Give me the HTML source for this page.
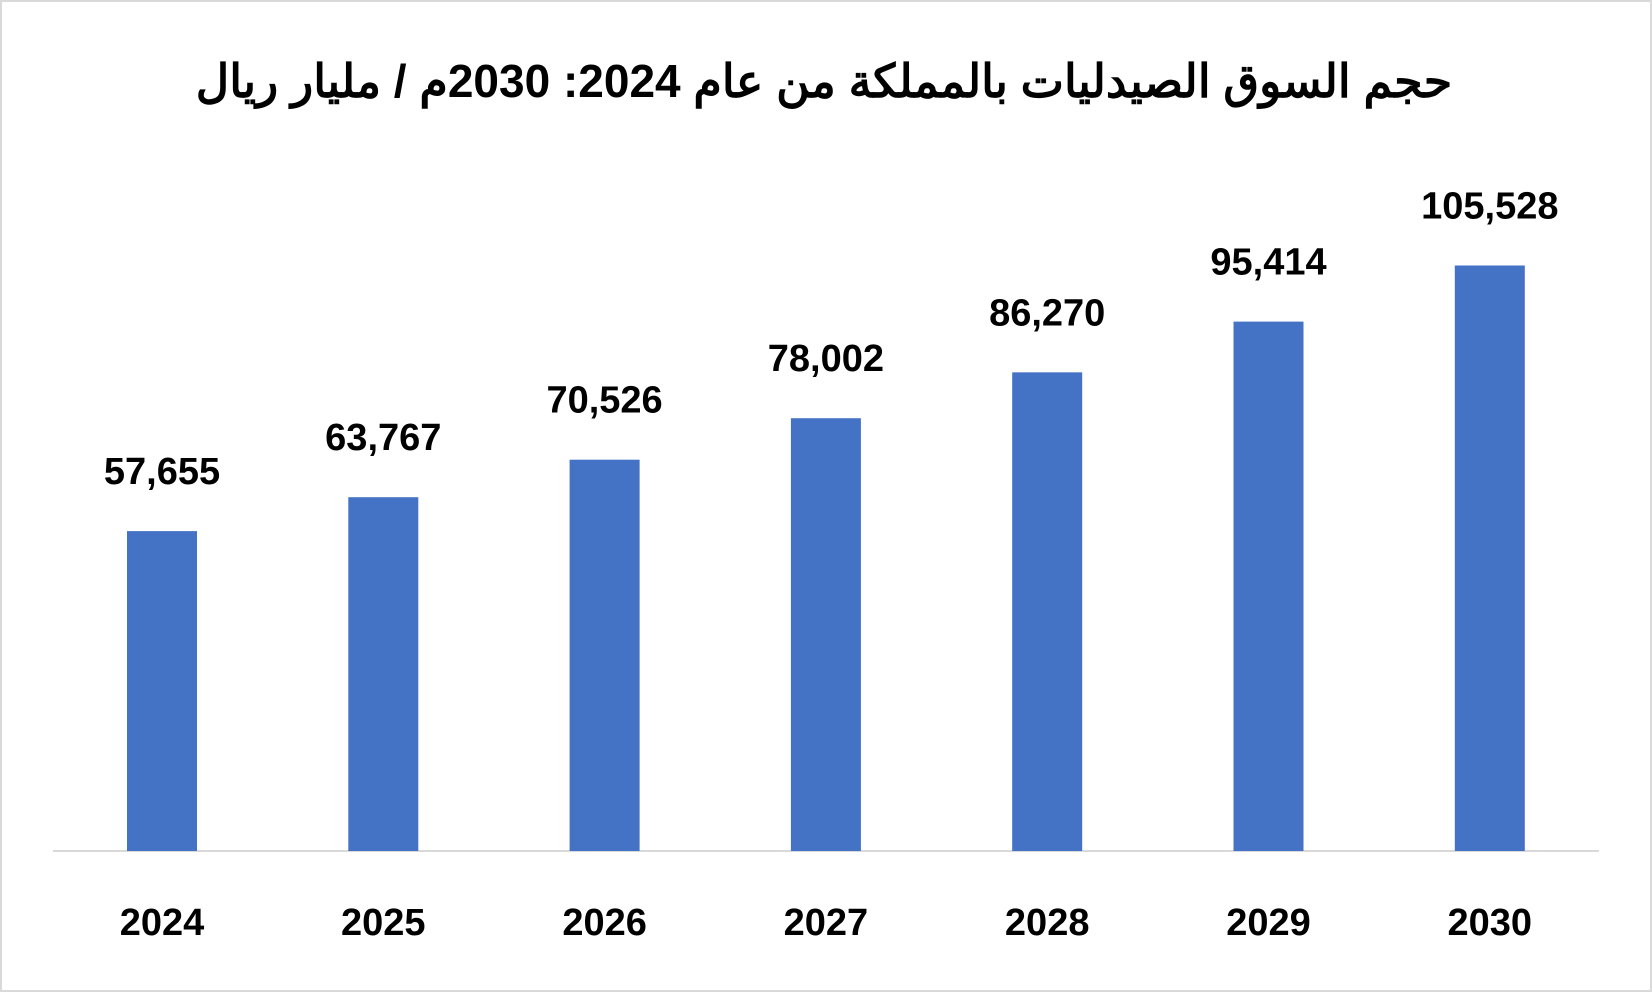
<!DOCTYPE html>
<html><head><meta charset="utf-8"><style>
html,body{margin:0;padding:0;background:#fff;}
svg{display:block;}
</style></head><body>
<svg id="chart" width="1652" height="992" xmlns="http://www.w3.org/2000/svg">
<rect x="1" y="1" width="1650" height="990" fill="#fff" stroke="#d9d9d9" stroke-width="2"/>
<text x="824" y="97" text-anchor="middle" font-family="'Liberation Sans','Noto Sans CJK SC',sans-serif" font-weight="bold" font-size="46" fill="#000" direction="rtl">حجم السوق الصيدليات بالمملكة من عام 2024: 2030م / مليار ريال</text>
<line x1="53" y1="851" x2="1599" y2="851" stroke="#d9d9d9" stroke-width="2"/>
<g id="bars"></g>
</svg>
<script>
const categories = ["2024","2025","2026","2027","2028","2029","2030"];
const values = [57655,63767,70526,78002,86270,95414,105528];
const valueLabels = ["57,655","63,767","70,526","78,002","86,270","95,414","105,528"];
const svgNS = "http://www.w3.org/2000/svg";
const g = document.getElementById('bars');
const baseY = 851, yMax = 120000, plotH = 665.8;
const x0 = 162, step = 221.3, barW = 70;
function xScale(i){ return x0 + i*step; }
function yScale(v){ return baseY - v/yMax*plotH; }
categories.forEach((c,i)=>{
  const cx = xScale(i), top = yScale(values[i]);
  const r = document.createElementNS(svgNS,'rect');
  r.setAttribute('x', cx-barW/2); r.setAttribute('y', top);
  r.setAttribute('width', barW); r.setAttribute('height', baseY-top);
  r.setAttribute('fill', '#4472c4');
  
  
  g.appendChild(r);
  const t = document.createElementNS(svgNS,'text');
  t.setAttribute('x', cx); t.setAttribute('y', top-47);
  t.setAttribute('text-anchor','middle');
  t.setAttribute('font-family','Liberation Sans, sans-serif');
  t.setAttribute('font-weight','bold'); t.setAttribute('font-size','38');
  t.textContent = valueLabels[i];
  
  
  g.appendChild(t);
  const y = document.createElementNS(svgNS,'text');
  y.setAttribute('x', cx); y.setAttribute('y', 935);
  y.setAttribute('text-anchor','middle');
  y.setAttribute('font-family','Liberation Sans, sans-serif');
  y.setAttribute('font-weight','bold'); y.setAttribute('font-size','38');
  y.textContent = c;
  
  
  g.appendChild(y);
});
</script>
</body></html>
